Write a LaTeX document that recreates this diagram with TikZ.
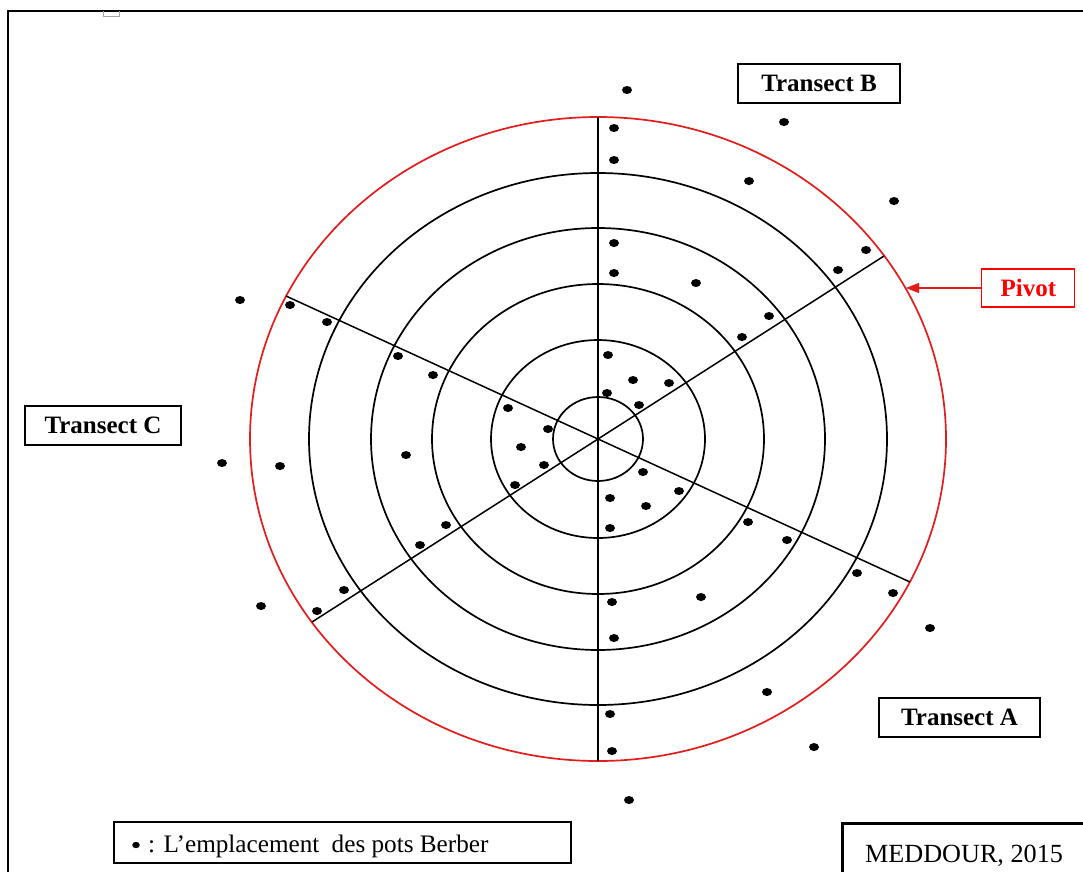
\documentclass[tikz,border=0pt]{standalone}
\usepackage{fontspec}
\setmainfont{Liberation Serif}
\usetikzlibrary{arrows.meta,calc}
\definecolor{pivotred}{RGB}{228,28,28}
\begin{document}
\begin{tikzpicture}[x=1pt,y=-1pt,
  ring/.style={draw=black, line width=1.7pt},
  redring/.style={draw=pivotred, line width=1.7pt},
  spoke/.style={draw=black, line width=1.5pt},
  tlabel/.style={draw=black, line width=1.2pt, font=\fontsize{25}{28}\selectfont\bfseries, minimum height=39pt, inner sep=0pt},
  plabel/.style={draw=red, line width=1.2pt, text=red, font=\fontsize{25}{28}\selectfont\bfseries, minimum width=93pt, minimum height=38pt, inner sep=0pt},
  plain/.style={font=\fontsize{25.2}{28}\selectfont, inner sep=0pt},
  frame/.style={draw=black, line width=2.4pt},
]
\useasboundingbox (0,0) rectangle (1083,871);
\clip (0,0) rectangle (1083,871);
\fill[white] (0,0) rectangle (1083,871);

% outer frame and small mark
\draw[frame] (8,880) -- (8,11) -- (1090,11);
\draw[gray!70, line width=0.8pt] (103,11) -- (103,16) -- (119,16) -- (119,11);

% centre and rings
\coordinate (C) at (598,439);
\draw[ring] (C) ellipse [x radius=45, y radius=42];
\draw[ring] (C) ellipse [x radius=107, y radius=99];
\draw[ring] (C) ellipse [x radius=166, y radius=155];
\draw[ring] (C) ellipse [x radius=227, y radius=211];
\draw[ring] (C) ellipse [x radius=289, y radius=266];
\draw[redring] (C) ellipse [x radius=348, y radius=322];

% spokes (ends on the red ring)
\coordinate (N) at (598,117);
\coordinate (S) at (598,761);
\coordinate (NE) at (884,256);
\coordinate (SW) at (312,622);
\coordinate (NW) at (286,296);
\coordinate (SE) at (910,582);
\draw[spoke] (N) -- (S);
\draw[spoke] (NE) -- (SW);
\draw[spoke] (NW) -- (SE);

% pots
\foreach \x/\y in {
 627/90, 784/122, 614/128, 614/160, 749/181, 894/201, 866/250,
 614/243, 614/273, 838/270, 696/283, 769/316, 742/337,
 240/300, 290/305, 327/322, 398/356, 433/375,
 608/355, 633/380, 669/383, 607/393, 639/405,
 508/408, 548/429, 521/447, 544/465, 515/485,
 222/463, 280/466, 406/455,
 643/472, 679/491, 610/498, 646/506, 610/528,
 748/522, 787/540, 446/525, 420/545,
 857/573, 893/593, 344/590, 317/611, 261/606, 930/628,
 612/602, 701/597, 614/638, 767/692, 610/714, 612/751, 814/747, 629/800}
 \fill[black] (\x,\y) ellipse [x radius=5, y radius=4];

% transect labels
\node[tlabel, minimum width=162pt] (tB) at (819,83.5) {Transect B};
\node[tlabel, minimum width=156pt] (tC) at (103,425.5) {Transect C};
\node[tlabel, minimum width=161pt] (tA) at (959.5,717.5) {Transect A};

% pivot
\node[plabel] (pivot) at (1028.3,288) {Pivot};
\coordinate (pivottip) at (906,288);
\draw[pivotred, line width=1.4pt, -{Triangle[length=13pt,width=10pt]}] (pivot.west) -- (pivottip);

% legend
\node[draw=black, line width=1.2pt, minimum width=457pt, minimum height=41pt, inner sep=0pt] (legend) at (342.5,842.5) {};
\fill[black] (136,845) ellipse [x radius=3.8, y radius=3.2];
\node[plain, anchor=base west] (legendtext) at (148,852) {: L’emplacement\hspace{6pt} des pots Berber};

% source box
\draw[black, line width=3pt] (842,880) -- (842,823) -- (1090,823);
\node[plain, font=\fontsize{26.2}{28}\selectfont, anchor=base] (source) at (964,862) {MEDDOUR, 2015};
\end{tikzpicture}
\end{document}
